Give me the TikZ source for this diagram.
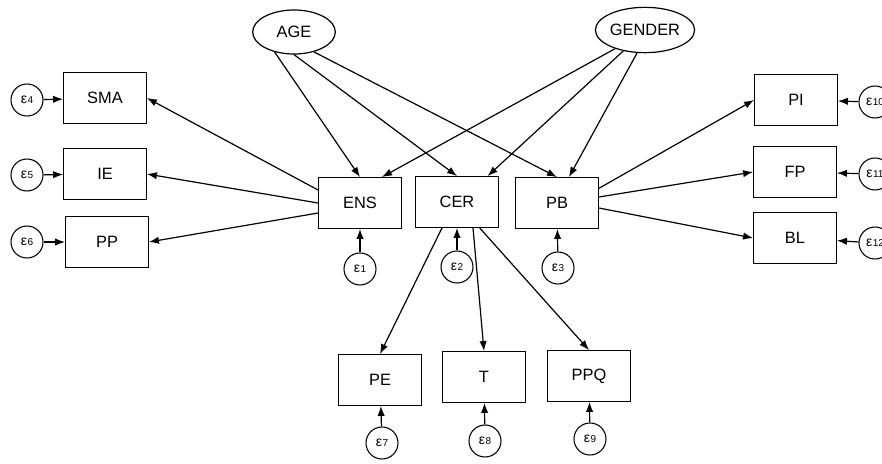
\documentclass[tikz,border=0pt]{standalone}
\usepackage{fontspec}
\setmainfont{Liberation Sans}
\usetikzlibrary{shapes.geometric, arrows, arrows.meta}
\tikzstyle{latent} = [ellipse, minimum width=62pt, minimum height=33pt, inner sep=0pt, text centered, draw=black, line width=0.9pt, fill=white]
\tikzstyle{observed} = [rectangle, minimum width=62pt, minimum height=38pt, text centered, draw=black, line width=0.9pt, fill=white]
\tikzstyle{error} = [circle, minimum size=24pt, inner sep=0pt, text centered, draw=black, line width=0.8pt, fill=white]
\tikzstyle{arrow} = [line width=0.9pt,->,>={Latex[length=7.5pt,width=5.5pt]}]
\newcommand{\err}[1]{{\fontsize{10.5}{12}\selectfont ε}\kern0.3pt{\fontsize{7.5}{8}\selectfont #1}}

\begin{document}
\begin{tikzpicture}[x=0.75pt, y=-0.75pt, font=\fontsize{12.3}{14}\selectfont]
        \clip (0,0) rectangle (882,464);

        \node (age) [latent] at (294,32) {AGE};
        \node (gender) [latent, minimum width=60pt, minimum height=34pt] at (645,30) {GENDER};

        \node (ens) [observed] at (360,203) {ENS};
        \node (cer) [observed] at (457,202) {CER};
        \node (pb) [observed] at (557,203) {PB};

        \node (sma) [observed] at (105,98) {SMA};
        \node (ie) [observed] at (105,174) {IE};
        \node (pp) [observed] at (107,242) {PP};

        \node (pi) [observed] at (796,100) {PI};
        \node (fp) [observed] at (795,172) {FP};
        \node (bl) [observed] at (795,238) {BL};

        \node (pe) [observed] at (380,380) {PE};
        \node (t) [observed] at (484,377) {T};
        \node (ppq) [observed] at (589,376) {PPQ};

        \node (e1) [error] at (360,269) {\err{1}};
        \node (e2) [error] at (457,267) {\err{2}};
        \node (e3) [error] at (558,268) {\err{3}};
        \node (e4) [error] at (27,100) {\err{4}};
        \node (e5) [error] at (27,175) {\err{5}};
        \node (e6) [error] at (27,242) {\err{6}};
        \node (e7) [error] at (382,443) {\err{7}};
        \node (e8) [error] at (485,441) {\err{8}};
        \node (e9) [error] at (590,439) {\err{9}};
        \node (e10) [error] at (875,102) {\err{10}};
        \node (e11) [error] at (875,174) {\err{11}};
        \node (e12) [error] at (875,243) {\err{12}};

        \draw [arrow] (age.226) -- (ens.north);
        \draw [arrow] (age.270) -- (cer.north);
        \draw [arrow] (age.315) -- (pb.north);
        \draw [arrow] (gender.212) -- ([xshift=16.5pt]ens.north);
        \draw [arrow] (gender.224) -- ([xshift=23pt]cer.north);
        \draw [arrow] (gender.251) -- ([xshift=9pt]pb.north);

        \draw [arrow] ([yshift=9.75pt]ens.west) -- (sma.east);
        \draw [arrow] (ens.west) -- (ie.east);
        \draw [arrow] ([yshift=-7.5pt]ens.west) -- (pp.east);

        \draw [arrow] ([yshift=11pt]pb.east) -- (pi.west);
        \draw [arrow] ([yshift=4.5pt]pb.east) -- (fp.west);
        \draw [arrow] ([yshift=-3.75pt]pb.east) -- (bl.west);

        \draw [arrow] ([xshift=-11.25pt]cer.south) -- (pe.north);
        \draw [arrow] ([xshift=12pt]cer.south) -- (t.north);
        \draw [arrow] ([xshift=17pt]cer.south) -- (ppq.north);

        \draw [arrow] (e1) -- (ens);
        \draw [arrow] (e2) -- (cer);
        \draw [arrow] (e3) -- (pb);
        \draw [arrow] (e4) -- (sma);
        \draw [arrow] (e5) -- (ie);
        \draw [arrow] (e6) -- (pp);
        \draw [arrow] (e7) -- (pe);
        \draw [arrow] (e8) -- (t);
        \draw [arrow] (e9) -- (ppq);
        \draw [arrow] (e10) -- (pi);
        \draw [arrow] (e11) -- (fp);
        \draw [arrow] (e12) -- (bl);
    \end{tikzpicture}
\end{document}
